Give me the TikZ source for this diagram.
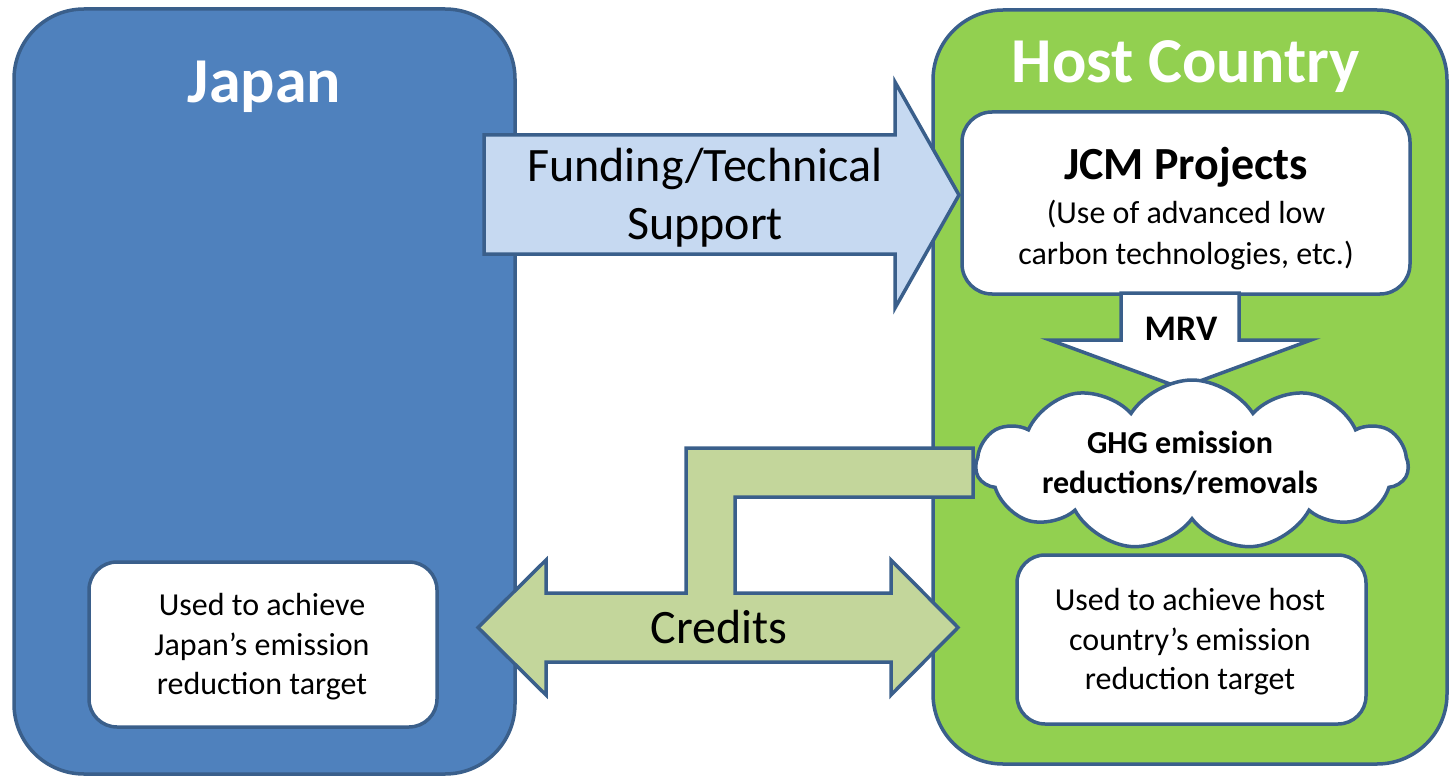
\documentclass[tikz,border=0pt]{standalone}
\usepackage{fontspec}
\setmainfont{Carlito}
\usetikzlibrary{shapes.symbols}
\definecolor{jpblue}{HTML}{4F81BD}
\definecolor{edgeblue}{HTML}{3A5F8B}
\definecolor{hostgreen}{HTML}{92D050}
\definecolor{fundfill}{HTML}{C6D9F1}
\definecolor{creditfill}{HTML}{C3D69B}
\begin{document}
\begin{tikzpicture}[x=1pt,y=-1pt,
  outline/.style={draw=edgeblue,line width=3.5pt,line join=miter},
  panel/.style={outline,rounded corners=70pt,inner sep=0pt},
  whitebox/.style={outline,fill=white,rounded corners=28pt,inner sep=0pt},
  title/.style={anchor=base,text=white,font=\fontsize{64}{77}\selectfont\bfseries,inner sep=0pt},
  big/.style={anchor=base,font=\fontsize{48}{58}\selectfont,inner sep=0pt},
  body/.style={anchor=base,font=\fontsize{32}{40}\selectfont,inner sep=0pt},
  bodybold/.style={anchor=base,font=\fontsize{32}{40}\selectfont\bfseries,inner sep=0pt}]
\useasboundingbox (0,0) rectangle (1451,778);

% country panels
\node[panel,fill=jpblue,minimum width=501pt,minimum height=765pt] (japan) at (264.5,391.5) {};
\node[panel,fill=hostgreen,minimum width=514pt,minimum height=754pt] (host) at (1190,387) {};
\node[title] (japanT) at (264.5,103) {Japan};
\node[title] (hostT) at (1186,83) {Host Country};

% funding / technical support arrow
\draw[outline,fill=fundfill] (484,135) -- (895,135) -- (895,82) -- (959,195)
  -- (895,308) -- (895,254) -- (484,254) -- cycle;
\node[big] (fund1) at (705,182) {Funding/Technical};
\node[big] (fund2) at (705,240) {Support};

% JCM projects
\node[whitebox,rounded corners=30pt,minimum width=448pt,minimum height=182pt] (jcm) at (1186,203) {};
\node[anchor=base,font=\fontsize{46}{55}\selectfont\bfseries,inner sep=0pt] (jcmT) at (1186,180) {JCM Projects};
\node[body] (jcm1) at (1186,224) {(Use of advanced low};
\node[body] (jcm2) at (1186,264) {carbon technologies, etc.)};

% MRV arrow
\draw[outline,fill=white] (1121,293) -- (1239,293) -- (1239,340) -- (1311,340)
  -- (1181,388) -- (1050,340) -- (1121,340) -- cycle;
\node[anchor=base,font=\fontsize{36}{43}\selectfont\bfseries,inner sep=0pt] (mrv) at (1181,340) {MRV};

% credits arrow
\draw[outline,fill=creditfill] (478,627.5) -- (546,560) -- (546,593) -- (686,593)
  -- (686,448) -- (973,448) -- (973,497) -- (735,497) -- (735,593) -- (891,593)
  -- (891,560) -- (958,627.5) -- (891,695) -- (891,662) -- (546,662) -- (546,695) -- cycle;
\node[big] (credits) at (719,643) {Credits};

% GHG cloud
\node[cloud,outline,fill=white,cloud puffs=11,cloud puff arc=115,aspect=2.45,
  minimum width=432pt,minimum height=170pt,inner sep=0pt] (ghg) at (1192,465) {};
\node[bodybold] (ghg1) at (1180,453) {GHG emission};
\node[bodybold] (ghg2) at (1180,493) {reductions/removals};

% usage boxes
\node[whitebox,minimum width=348pt,minimum height=165pt] (jpuse) at (263,644.5) {};
\node[body] (jpuse1) at (262,615) {Used to achieve};
\node[body] (jpuse2) at (262,655) {Japan’s emission};
\node[body] (jpuse3) at (262,694) {reduction target};

\node[whitebox,minimum width=349pt,minimum height=169pt] (hostuse) at (1191.5,639.5) {};
\node[body] (hostuse1) at (1190,610) {Used to achieve host};
\node[body] (hostuse2) at (1190,650) {country’s emission};
\node[body] (hostuse3) at (1190,689) {reduction target};
\end{tikzpicture}
\end{document}
